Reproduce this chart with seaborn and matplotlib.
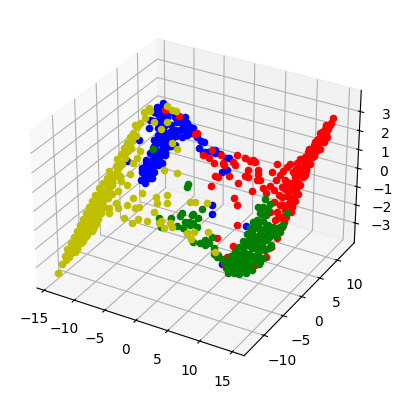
import matplotlib
matplotlib.use("Agg")
import matplotlib.pyplot as plt
import seaborn as sns

# values, one small list per axis and class
yellow_x = [-13.0,-12.8,-12.6,-12.3,-12.4,-12.1,-12.1,-11.9,-11.9,-11.7,-11.5,-11.6,-11.4,-11.0,-11.3,-11.2,-10.6,-11.1,-10.7,-11.0,-10.5,-10.7,-10.6,-10.5,-10.7,-10.2,-10.0,-10.1,-10.7,-10.0,-10.0,-9.8,-9.3,-9.0,-9.8,-10.7,-11.3,
            -8.5,-8.4,-8.8,-8.7,-9.4,-8.5,-9.4,-9.9,-10.7,-9.0,-7.3,-6.3,-9.7,-8.7,-7.7,-6.6,-6.1,-9.5,-7.4,-6.3,-5.8,-4.6,-4.1,-4.5,-3.3,-4.2,-3.0,-4.7,-3.1,-4.1,-5.0,-6.4,-6.8,-8.0,-9.6,-9.2,-7.1,-6.4,-5.8,-0.3,0.3,-2.9,-1.8,-2.2,-1.3,-3.0,1.8,3.2,1.5,0.7,1.4,4.9,
            -10.4,-10.6,-10.2,-11.5,-11.3,-11.2,
            -12.7,-11.7,-12.4,-11.4,-12.3,-11.1,-12.1,-11.1,-11.9,-10.8,-11.8,-10.7,-11.6,-11.0,-10.9,-10.2,-10.2,-10.0,-9.8,-9.6,-10.3,-10.8,
            -12.9,-12.4,-12.9,-12.3,-11.7,-12.7,-12.1,-11.5,-12.6,-12.0,-11.4,-12.5,-11.9,-11.3,-10.7,-12.4,-11.8,-11.2,-10.6,-12.3,-11.7,-11.1,-10.5,-12.2,-11.6,-11.0,-10.4,-12.1,-10.9,-10.3,-12.0,-11.4,-11.9,-10.7,-11.7,-10.5,-11.5,-10.9,-10.5,-10.4,-10.1,-9.9,-10.5,-9.6,-10.3,-9.6]
yellow_y = [-14.5,-13.6,-13.1,-12.3,-12.7,-11.8,-11.4,-11.0,-12.0,-10.3,-9.8,-10.9,-9.2,-9.3,-10.4,-8.4,-8.7,-9.7,-9.3,-7.6,-7.8,-6.8,-5.9,-4.9,-5.5,-4.0,-3.1,-2.4,-3.7,-1.3,-0.3,0.3,1.4,2.2,-4.1,-4.5,-4.4,
            -1.1,-1.8,-2.4,-3.3,-4.3,-4.2,-5.2,-5.7,-6.6,-6.1,-4.7,-3.8,-6.9,-6.3,-5.6,-5.3,-4.9,-7.2,-6.6,-6.4,-5.8,-5.3,-4.3,-3.1,-2.4,-3.5,-2.9,-0.8,-0.2,1.4,1.5,2.6,1.7,1.7,1.8,2.4,3.7,3.7,3.9,-1.3,-1.0,-4.4,-4.0,-4.7,-4.1,-4.7,-0.3,-2.2,-3.1,-3.6,-3.7,-3.1,
            -1.4,-2.5,0.3,-6.6,-8.2,-5.0,
            -12.3,-11.6,-11.6,-10.8,-10.9,-10.1,-10.2,-8.9,-9.4,-8.3,-8.6,-7.3,-7.7,-6.1,-6.9,-6.3,-3.5,-1.9,-0.9,0.8,-5.2,-3.1,
            -12.9,-12.7,-12.3,-12.0,-11.7,-11.7,-11.4,-11.0,-11.1,-10.8,-10.4,-10.5,-10.2,-9.8,-9.5,-9.9,-9.6,-9.2,-8.9,-9.3,-9.0,-8.6,-8.3,-8.7,-8.4,-8.0,-7.7,-8.1,-7.4,-7.1,-7.5,-7.2,-6.9,-6.3,-6.2,-5.6,-5.6,-5.3,-4.5,-3.9,-3.2,-2.5,-2.0,-1.5,-0.8,-0.4]
yellow_z = [-3.07,-2.74,-2.56,-2.33,-2.48,-2.15,-2.0,-1.89,-2.30,-1.63,-1.48,-1.89,-1.22,-1.37,-1.74,-0.96,-1.22,-1.52,-1.44,-0.67,-0.85,-0.41,-0.07,0.33,0.11,0.63,0.96,1.26,0.85,1.70,2.07,2.30,2.67,2.89,0.48,0.52,0.70,
            1.44,1.15,1.0,0.59,0.33,0.15,-0.04,-0.15,-0.33,-0.48,-0.30,-0.15,-0.67,-0.67,-0.59,-0.70,-0.67,-0.85,-1.07,-1.22,-1.07,-1.15,-0.85,-0.30,-0.22,-0.52,-0.52,0.70,0.59,1.48,1.70,2.48,2.22,2.48,2.85,3.04,3.11,2.93,2.89,-0.48,-0.48,-1.15,-1.26,-1.44,-1.41,-1.26,-0.52,-1.59,-1.59,-1.63,-1.85,-2.33,
            1.74,1.33,2.37,-0.15,-0.85,0.41,
            -2.22,-2.15,-2.0,-1.89,-1.74,-1.67,-1.48,-1.19,-1.22,-1.0,-0.93,-0.63,-0.59,-0.04,-0.41,-0.33,0.85,1.44,1.81,2.44,0.15,1.15,
            -2.44,-2.44,-2.19,-2.19,-2.19,-1.96,-1.96,-1.96,-1.74,-1.74,-1.74,-1.52,-1.52,-1.52,-1.52,-1.30,-1.30,-1.30,-1.30,-1.07,-1.07,-1.07,-1.07,-0.85,-0.85,-0.85,-0.85,-0.63,-0.63,-0.63,-0.41,-0.41,-0.19,-0.19,0.04,0.04,0.26,0.26,0.48,0.70,0.93,1.15,1.52,1.52,1.96,1.96]

blue_x = [-7.0,-6.4,-6.1,-6.8,-7.3,-6.5,-6.1,-6.9,-6.6,-5.8,-6.5,-5.8,-5.3,-6.5,-5.8,-5.2,-6.1,-7.3,-7.4,-6.7,-6.5,-6.3,-5.7,-7.0,-6.4,-5.7,-5.1,-7.0,-8.3,-7.3,-6.6,-5.8,-5.2,-4.3,-8.1,-7.5,-6.6,-5.7,-8.4,-7.9,-7.2,-6.4,-5.1,-4.0,-3.5,-3.0,-2.2,-1.6,-1.1,-1.4,-0.6,-0.2,0.7,1.3,2.2,2.6,2.3,2.8,-9.6,-9.0,2.5,2.9,7.5,6.2,-3.9,-4.6,-3.0,-7.8,-8.3,-5.7,
          -5.8,-5.7,-5.3,-4.5,-4.0,-3.4,-5.3,-6.2,-7.2,-8.6,-4.5,0.5,-0.8,
          -6.8,-5.8,-7.2,-6.6,-5.9,-5.3,-7.2,-6.2,-5.3,-6.9,-5.9,-4.9,-6.5,-5.8,-4.8,-7.3,-6.6,-4.4,-7.9,-7.2]
blue_y = [-3.0,-2.9,-2.3,-2.4,-2.4,-1.8,-1.1,-1.6,-0.8,-0.3,0.0,0.4,0.9,0.7,1.3,1.8,-1.8,-1.3,-2.1,0.5,-0.5,-2.3,0.0,-0.1,1.7,2.1,2.6,1.1,1.0,1.6,2.1,2.7,3.3,3.4,1.8,2.4,2.9,3.4,2.4,3.0,3.2,3.5,3.7,3.8,3.7,3.4,3.5,3.5,3.7,2.9,3.0,3.3,3.6,3.8,4.0,4.2,2.8,3.2,-2.6,-0.4,-0.1,-0.7,0.7,-3.4,3.2,2.9,3.9,3.6,2.9,3.8,
          -1.6,-0.9,0.2,1.5,2.5,3.0,1.4,1.1,0.6,1.6,4.0,3.8,2.8,
          -2.7,-2.1,-1.6,-1.3,-0.9,-0.5,-0.6,-0.1,0.4,0.1,0.7,1.3,1.3,1.7,2.2,2.1,2.5,3.6,2.5,2.9]
blue_z = [0.33,0.22,0.41,0.52,0.63,0.70,0.89,0.89,1.15,1.15,1.44,1.44,1.56,1.74,1.81,1.89,0.63,1.07,0.78,1.70,1.26,0.48,1.26,1.52,2.11,2.11,2.19,2.0,2.26,2.26,2.33,2.37,2.48,2.37,2.52,2.63,2.67,2.67,2.85,3.0,2.93,2.85,2.63,2.44,2.30,2.07,1.93,1.78,1.74,1.52,1.37,1.37,1.33,1.30,1.15,1.15,0.63,0.70,1.07,1.81,-0.59,-0.93,-1.37,-2.78,2.19,2.19,2.26,3.19,3.04,2.81,
          0.63,0.89,1.26,1.63,1.93,2.0,1.74,1.81,1.81,2.56,2.67,1.44,1.33,
          0.41,0.41,0.96,0.96,0.96,0.96,1.33,1.33,1.33,1.59,1.59,1.59,1.96,1.96,1.96,2.48,2.48,2.48,2.78,2.78]

red_x = [13.4,13.3,13.2,13.0,12.9,12.8,12.6,12.6,12.4,12.2,12.1,12.7,12.1,12.0,12.5,11.8,12.3,11.7,12.4,11.8,12.3,11.7,12.2,11.8,12.4,11.9,11.6,12.2,11.8,11.9,11.8,11.7,11.3,11.1,10.2,6.5,6.6,6.7,4.5,6.4,5.5,4.8,6.7,1.6,4.7,2.1,1.6,3.3,5.6,5.2,5.3,-0.7,-2.4,2.3,2.0,1.0,0.2,0.1,1.5,3.5,3.2,3.3,4.4,5.2,5.5,5.8,6.5,6.7,7.2,6.8,8.3,8.6,9.9,10.9,10.8,9.4,10.9,8.6,9.3,10.2,7.9,11.1,10.6,9.8,10.9,9.8,10.6,10.7,-7.2,-5.2,-2.5,
         12.9,13.4,13.3,12.2,13.1,11.8,12.7,11.5,12.5,11.3,12.0,11.3,11.3,11.1,12.3,11.5,12.2,11.3,10.2,11.1,10.1,
         12.8,13.3,12.4,13.1,12.3,12.9,11.8,12.5,11.6,12.1,11.1,11.7,12.3,11.2,12.4,10.6,11.3,11.9,10.6,11.3,11.9,11.6,12.0,10.7,12.1,11.0,11.9,11.2,11.8,9.6,9.1,8.5,10.1]
red_y = [13.6,13.1,12.5,11.9,11.4,11.0,10.6,11.9,11.2,10.5,10.1,10.2,9.6,9.1,9.6,8.8,8.8,8.2,8.2,7.6,7.6,6.9,6.9,6.1,6.2,5.4,4.8,4.5,4.1,3.4,3.0,1.9,0.9,-0.1,-1.3,-2.6,-3.3,-1.5,-2.0,0.2,1.5,1.8,3.4,1.1,3.1,2.2,2.0,3.0,4.1,4.0,4.6,2.7,3.8,3.4,3.4,2.9,2.9,3.6,3.9,4.1,4.2,4.9,5.2,5.3,5.6,5.6,5.2,4.9,4.7,4.5,6.0,6.8,7.3,8.2,7.3,6.3,6.4,4.9,4.9,5.6,4.3,5.3,4.9,4.1,4.4,3.2,3.6,3.0,3.3,3.8,3.6,
         12.3,11.9,11.3,10.8,10.6,9.6,9.8,8.8,9.0,7.8,8.0,7.1,6.4,5.7,5.5,4.3,4.9,3.5,6.3,8.6,7.7,
         12.6,12.9,11.7,12.1,10.9,11.2,9.9,10.3,9.1,9.4,7.7,8.0,8.4,7.2,7.9,6.2,6.6,6.9,5.7,6.0,6.4,5.4,5.7,4.3,5.1,3.3,3.9,2.5,2.9,6.7,5.7,4.2,4.9]
red_z = [2.59,2.41,2.19,2.0,1.81,1.67,1.52,2.07,1.81,1.59,1.44,1.37,1.26,1.07,1.15,0.96,0.89,0.78,0.63,0.48,0.41,0.22,0.11,-0.11,-0.22,-0.41,-0.59,-0.85,-0.96,-1.22,-1.41,-1.81,-2.15,-2.52,-2.81,-2.52,-2.81,-2.11,-1.81,-1.33,-0.59,-0.33,-0.07,0.11,0.22,0.44,0.48,0.48,0.44,0.48,0.70,1.26,2.07,0.89,0.96,0.96,1.15,1.44,1.26,0.89,1.0,1.26,1.15,1.0,1.07,1.0,0.70,0.52,0.33,0.33,0.63,0.89,0.81,0.96,0.59,0.52,0.22,0.11,-0.07,0.04,0.0,-0.30,-0.33,-0.52,-0.63,-0.85,-0.89,-1.15,2.96,2.70,2.04,
         2.19,1.89,1.70,1.70,1.44,1.33,1.19,1.07,0.89,0.70,0.63,0.41,0.11,-0.11,-0.48,-0.78,-0.70,-1.07,0.33,1.07,0.89,
         2.33,2.33,2.04,2.04,1.74,1.74,1.44,1.44,1.15,1.15,0.70,0.70,0.70,0.48,0.48,0.19,0.19,0.19,-0.04,-0.04,-0.04,-0.33,-0.33,-0.59,-0.59,-1.07,-1.07,-1.44,-1.44,0.63,0.33,-0.19,-0.26]

green_x = [8.6,9.4,8.7,9.4,8.6,9.4,8.5,9.3,8.6,9.3,8.5,9.3,8.4,9.2,8.3,9.1,8.1,9.0,8.0,8.9,7.7,8.7,7.5,8.4,7.1,8.1,6.9,7.8,10.1,10.7,11.5,11.8,11.5,10.8,10.4,11.2,10.2,10.0,10.8,9.9,10.8,9.5,10.6,10.1,9.2,8.5,7.4,7.3,8.6,5.4,4.8,6.0,6.6,11.8,11.8,-6.9,-1.2,-1.2,-3.2,-2.6,-1.8,-0.8,-0.9,-0.7,0.0,0.0,0.7,1.8,0.5,1.0,0.7,1.4,1.6,1.5,0.6,0.5,2.7,3.4,3.9,4.6,3.2,5.3,3.8,
           8.1,8.1,8.0,7.9,7.8,7.5,7.3,7.0,8.9,8.9,8.9,8.9,8.5,8.3,9.8,9.5,10.2,9.6,9.1,10.3,11.1,6.4,7.9,7.5,
           8.5,9.8,8.4,9.9,10.6,8.1,9.6,11.1,7.6,8.4,10.2,9.7,10.7,6.9,8.7,9.6,8.0,9.4]
green_y = [3.7,3.7,3.1,3.2,2.5,2.7,1.8,2.1,1.2,1.3,0.6,0.8,0.0,0.2,-0.6,-0.4,-1.1,-1.0,-1.6,-1.4,-2.0,-1.9,-2.4,-2.3,-2.7,-2.8,-3.2,-3.1,2.2,2.3,2.8,2.5,2.0,1.6,1.0,1.0,0.5,-0.3,0.3,-0.9,-0.4,-1.5,-1.1,-1.9,-2.2,-2.9,-3.3,-3.6,-3.0,-3.1,-3.3,-3.1,-3.0,4.2,3.1,-0.1,-0.5,-0.2,-4.4,-4.8,-3.6,-3.8,-2.9,-2.5,-3.0,-3.5,-3.6,-3.8,-2.1,-2.5,-2.9,-1.9,-2.5,-1.0,-1.9,-2.7,-3.4,-3.2,-2.2,-2.8,-2.9,-3.3,-2.8,
           2.7,1.4,0.8,0.2,-0.5,-1.2,-1.8,-2.3,2.6,1.5,0.5,-0.4,-1.2,-1.8,1.1,0.3,0.0,-0.9,-1.8,1.7,2.1,-3.1,-2.3,-2.9,
           1.1,1.8,0.1,0.9,1.3,-1.0,-0.1,0.7,-2.0,-1.5,-0.5,-1.3,-0.8,-3.4,-2.4,-1.9,-3.2,-2.5]
green_z = [-0.41,-0.56,-0.67,-0.78,-0.89,-1.0,-1.15,-1.22,-1.41,-1.52,-1.63,-1.74,-1.89,-1.96,-2.07,-2.19,-2.26,-2.41,-2.41,-2.56,-2.52,-2.70,-2.63,-2.81,-2.70,-2.93,-2.85,-3.0,-1.33,-1.44,-1.41,-1.59,-1.74,-1.74,-1.89,-2.07,-2.07,-2.33,-2.26,-2.56,-2.56,-2.74,-2.78,-3.0,-2.93,-3.07,-3.0,-3.11,-3.15,-2.44,-2.41,-2.59,-2.70,-0.89,-1.33,1.48,0.07,0.19,-1.07,-1.37,-1.07,-1.37,-1.0,-0.89,-1.22,-1.41,-1.63,-1.96,-0.96,-1.26,-1.33,-1.07,-1.41,-0.74,-0.93,-1.22,-2.0,-2.07,-1.78,-2.19,-1.89,-2.52,-2.0,
           -0.70,-1.22,-1.44,-1.67,-1.93,-2.15,-2.33,-2.48,-0.93,-1.37,-1.78,-2.15,-2.37,-2.59,-1.70,-2.0,-2.26,-2.48,-2.78,-1.59,-1.63,-2.70,-2.70,-2.85,
           -1.44,-1.44,-1.81,-1.81,-1.81,-2.19,-2.19,-2.19,-2.48,-2.48,-2.48,-2.70,-2.70,-2.93,-2.93,-2.93,-3.11,-3.11]

x_ticks = [-15, -10, -5, 0, 5, 10, 15]
y_ticks = [-10, -5, 0, 5, 10]
z_ticks = [-3, -2, -1, 0, 1, 2, 3]

colors = sns.color_palette(["b", "r", "g", "y"])

fig = plt.figure(figsize=(4.04, 3.99), dpi=100)
ax = fig.add_axes([0.0227, 0.05, 0.913, 0.925], projection="3d")
ax.computed_zorder = False

ax.scatter(blue_x, blue_y, blue_z, color=colors[0], s=20, depthshade=False, zorder=1)
ax.scatter(red_x, red_y, red_z, color=colors[1], s=20, depthshade=False, zorder=2)
ax.scatter(green_x, green_y, green_z, color=colors[2], s=20, depthshade=False, zorder=3)
ax.scatter(yellow_x, yellow_y, yellow_z, color=colors[3], s=20, depthshade=False, zorder=4)

ax.set_xlim(-16.2, 16.8)
ax.set_ylim(-15, 15)
ax.set_zlim(-4.1, 4.1)
ax.set_xticks(x_ticks)
ax.set_yticks(y_ticks)
ax.set_zticks(z_ticks)

fig.savefig("out.png", dpi=100)
